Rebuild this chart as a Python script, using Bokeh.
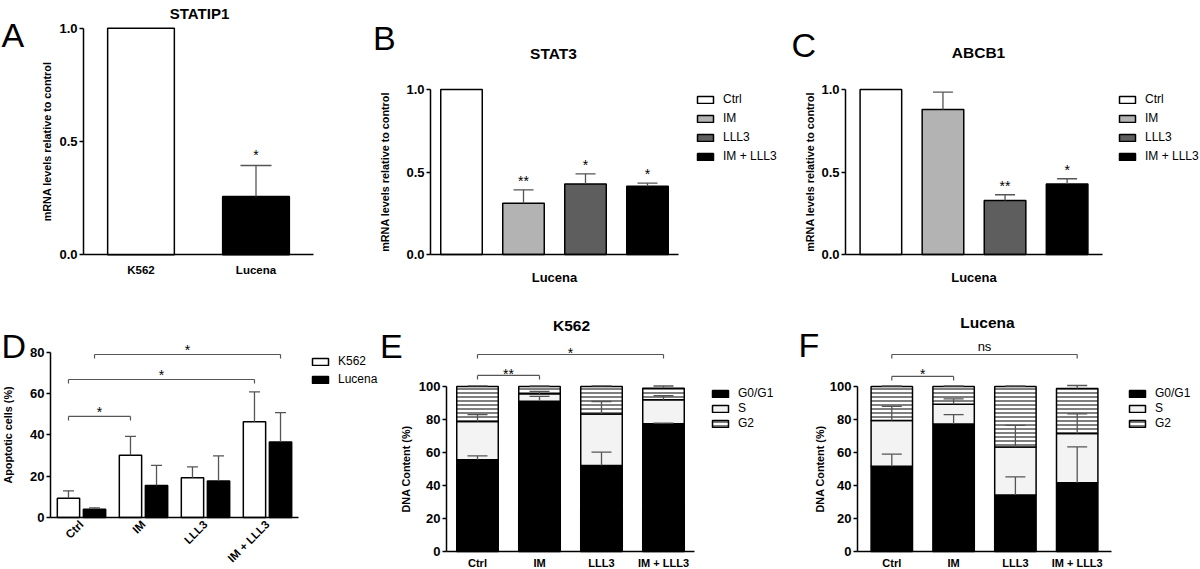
import math
from bokeh.plotting import figure
from bokeh.layouts import row, column
from bokeh.models import (ColumnDataSource, Range1d, FixedTicker, PrintfTickFormatter,
                          Whisker, TeeHead, Label, Legend, LegendItem)
from bokeh.transform import stack
from bokeh.core.properties import value
from bokeh.embed import file_html
from bokeh.resources import INLINE

# ---------------- data ----------------
mrna_ticks = [0.0, 0.5, 1.0]
pct80_ticks = [0, 20, 40, 60, 80]
pct100_ticks = [0, 20, 40, 60, 80, 100]

statip1_cells = ["K562", "Lucena"]
statip1_mean = [1.0, 0.257]
statip1_sem = [0.0, 0.137]
statip1_sig = ["", "*"]

treatments = ["Ctrl", "IM", "LLL3", "IM + LLL3"]
stat3_mean = [1.0, 0.311, 0.428, 0.414]
stat3_sem = [0.0, 0.081, 0.061, 0.018]
stat3_sig = ["", "**", "*", "*"]
abcb1_mean = [1.0, 0.879, 0.327, 0.428]
abcb1_sem = [0.0, 0.105, 0.035, 0.031]
abcb1_sig = ["", "", "**", "*"]

apop_lines = ["K562", "Lucena"]
apop_k562 = [9.3, 30.1, 19.2, 46.3]
apop_k562_sem = [3.6, 9.2, 5.3, 14.5]
apop_lucena = [4.0, 15.5, 17.7, 36.6]
apop_lucena_sem = [0.7, 9.7, 12.1, 14.2]
apop_comparisons = [("Ctrl", "K562", "IM", "K562", 48.9, "*"),
                    ("Ctrl", "K562", "IM + LLL3", "K562", 66.8, "*"),
                    ("Ctrl", "Lucena", "IM + LLL3", "Lucena", 78.9, "*")]

phases = ["G0/G1", "S", "G2"]
k562_g0g1 = [55.6, 91.1, 52.1, 77.4]
k562_g0g1_sem = [2.4, 2.9, 8.1, 0.4]
k562_s = [23.2, 4.5, 31.3, 14.5]
k562_s_sem = [4.2, 1.4, 7.5, 2.5]
k562_g2 = [21.2, 4.4, 16.6, 7.1]
k562_g2_sem = [0.4, 0.3, 0.4, 1.3]
k562_comparisons = [("Ctrl", "IM", 106.7, "**"), ("Ctrl", "IM + LLL3", 119.4, "*")]

lucena_g0g1 = [51.7, 77.2, 34.3, 41.6]
lucena_g0g1_sem = [7.3, 5.8, 10.9, 21.8]
lucena_s = [27.7, 12.1, 29.1, 29.9]
lucena_s_sem = [8.5, 3.2, 13.0, 11.9]
lucena_g2 = [20.6, 10.7, 36.6, 27.3]
lucena_g2_sem = [0.3, 0.3, 0.3, 1.8]
lucena_comparisons = [("Ctrl", "IM", 106.1, "*"), ("Ctrl", "IM + LLL3", 119.4, "ns")]

# ---------------- style ----------------
FONT = "Liberation Sans"
ERR = "#555555"
BRK = "#555555"
cell_colors = ["white", "black"]
treat_colors = ["white", "#b3b3b3", "#5e5e5e", "black"]
phase_fills = ["black", "#f3f3f3", "white"]
phase_hatch = [None, None, "-"]

W_PAGE, H_PAGE = 1200, 569
SX, SY = W_PAGE / 1200.0, H_PAGE / 569.0


def X(v):
    return v * SX


def Y(v):
    return v * SY


class Geo:
    pass


def make_panel(box, frame, ppu, n, pad):
    """box/frame in reference pixels; the whole figure is the plotting frame."""
    x0, x1, y0, y1 = box
    fl, fr, fb = frame
    bx0, bx1, by0, by1 = round(X(x0)), round(X(x1)), round(Y(y0)), round(Y(y1))
    FL, FR, FB = X(fl), X(fr), Y(fb)
    ppx = (FR - FL) / (n + 2 * pad)
    ppy = ppu * SY

    def dx(px):
        return -pad + (px - FL) / ppx

    def dy(py):
        return (FB - py) / ppy

    p = figure(width=bx1 - bx0, height=by1 - by0,
               x_range=Range1d(dx(bx0), dx(bx1)), y_range=Range1d(dy(by1), dy(by0)),
               min_border_left=0, min_border_right=0, min_border_top=0, min_border_bottom=0,
               output_backend="svg", toolbar_location=None, outline_line_color=None,
               background_fill_color="white", border_fill_color="white")
    p.xgrid.visible = False
    p.ygrid.visible = False
    g = Geo()
    g.dx = lambda xr: dx(X(xr))
    g.dy = lambda yr: dy(Y(yr))
    g.bx0, g.by1 = bx0, by1
    g.ppu = ppu
    g.left, g.right = -pad, n + pad
    g.centers = [i + 0.5 for i in range(n)]
    return p, g


def style_axes(p, g, cats, yticks, yfmt, ylabel, ylab_standoff, xsize="11.5px", xstandoff=9,
               show_x_labels=True):
    ya, xa = p.yaxis[0], p.xaxis[0]
    for ax in (xa, ya):
        ax.axis_line_color = "black"
        ax.axis_line_width = 1.5
        ax.major_tick_line_color = "black"
        ax.major_tick_line_width = 1.5
        ax.minor_tick_line_color = None
        ax.major_label_text_font = FONT
        ax.major_label_text_font_style = "bold"
        ax.major_label_text_color = "black"
        ax.axis_label_text_font = FONT
        ax.axis_label_text_font_style = "bold"
        ax.axis_label_text_color = "black"
    ya.fixed_location = g.left
    ya.ticker = FixedTicker(ticks=yticks)
    ya.formatter = PrintfTickFormatter(format=yfmt)
    ya.bounds = (yticks[0], yticks[-1])
    ya.major_tick_out = 4
    ya.major_tick_in = 0
    ya.major_label_standoff = 2
    ya.major_label_text_font_size = "13px"
    ya.axis_label = ylabel
    ya.axis_label_text_font_size = "10.8px"
    ya.axis_label_standoff = ylab_standoff
    xa.fixed_location = 0
    xa.bounds = (g.left, g.right)
    xa.major_tick_out = 0
    xa.major_tick_in = 0
    xa.major_tick_line_color = None
    if show_x_labels:
        xa.ticker = FixedTicker(ticks=g.centers)
        xa.major_label_overrides = {c: name for c, name in zip(g.centers, cats)}
    else:
        xa.ticker = FixedTicker(ticks=[])
    xa.major_label_text_font_size = xsize
    xa.major_label_standoff = xstandoff


def text_at(p, g, xr, yr, text, size, bold=False, align="left"):
    p.add_layout(Label(x=g.dx(xr), y=g.dy(yr), text=text, text_font=FONT, text_font_size=size,
                       text_font_style="bold" if bold else "normal", text_color="black",
                       text_align=align, text_baseline="alphabetic"))


def add_errors(p, xs, lows, highs, head_px):
    keep = [i for i in range(len(xs)) if highs[i] > lows[i]]
    src = ColumnDataSource(dict(x=[xs[i] for i in keep], lo=[lows[i] for i in keep],
                                hi=[highs[i] for i in keep]))
    w = Whisker(base="x", lower="lo", upper="hi", source=src, dimension="height",
                line_color=ERR, line_width=1.3, lower_head=None,
                upper_head=TeeHead(size=head_px, line_color=ERR, line_width=1.3), level="annotation")
    p.add_layout(w)


def add_stars(p, xs, anchors, texts, gap_ref, ppu, size="14px"):
    src = ColumnDataSource(dict(x=xs, y=[a + gap_ref / ppu for a in anchors], t=texts))
    p.text(x="x", y="y", text="t", source=src, text_align="center", text_baseline="alphabetic",
           text_font=value(FONT), text_font_size=size, text_color="black")


def add_brackets(p, x0s, x1s, ys, texts, star_gap, ppu):
    gaps = [7.9 if t == "ns" else star_gap for t in texts]
    src = ColumnDataSource(dict(x0=x0s, x1=x1s, y=ys, yt=[y - 4.0 / ppu for y in ys],
                                xm=[(a + b) / 2.0 for a, b in zip(x0s, x1s)],
                                ys=[y + gp / ppu for y, gp in zip(ys, gaps)], t=texts,
                                fs=["13px" if t == "ns" else "14px" for t in texts]))
    kw = dict(source=src, line_color=BRK, line_width=1.2)
    p.segment(x0="x0", y0="y", x1="x1", y1="y", **kw)
    p.segment(x0="x0", y0="y", x1="x0", y1="yt", **kw)
    p.segment(x0="x1", y0="y", x1="x1", y1="yt", **kw)
    p.text(x="xm", y="ys", text="t", source=src, text_align="center", text_baseline="alphabetic",
           text_font=value(FONT), text_font_size="fs", text_color="black")


def add_legend(p, g, items, left_ref, first_center_ref, lh):
    n = len(items)
    top = Y(first_center_ref) - lh / 2.0
    vy = g.by1 - (top + n * lh)
    vx = X(left_ref) - g.bx0
    leg = Legend(items=items, location=(vx, vy), orientation="vertical", padding=0, margin=0,
                 spacing=0, label_height=lh, glyph_height=9, glyph_width=20, label_standoff=8,
                 border_line_color=None, background_fill_alpha=0,
                 label_text_font=FONT, label_text_font_size="12px", label_text_color="black")
    p.add_layout(leg, "center")


# ---------------- Panel A ----------------
pA, gA = make_panel((0, 372, 0, 290), (83, 313, 254.3), 226.6, len(statip1_cells), 0.0)
style_axes(pA, gA, statip1_cells, mrna_ticks, "%.1f", "mRNA levels relative to control", 3)
topsA = [m + e for m, e in zip(statip1_mean, statip1_sem)]
srcA = ColumnDataSource(dict(x=gA.centers, mean=statip1_mean, color=cell_colors))
pA.vbar(x="x", top="mean", width=0.58, source=srcA, fill_color="color",
        line_color="black", line_width=1.5)
add_errors(pA, gA.centers, statip1_mean, topsA, 31)
add_stars(pA, gA.centers, topsA, statip1_sig, 10.2, 226.6)
text_at(pA, gA, 199, 13, "STATIP1", "15px", bold=True, align="center")
text_at(pA, gA, 1, 34, "A", "34px")


# ---------------- Panels B, C ----------------
def mrna_panel(box, frame, mean, sem, sig, title, title_xy, letter, letter_xy, legend_left,
               ylab_standoff, pad):
    p, g = make_panel(box, frame, 165.0, len(treatments), pad)
    style_axes(p, g, treatments, mrna_ticks, "%.1f", "mRNA levels relative to control",
               ylab_standoff, show_x_labels=False)
    xa = p.xaxis[0]
    xa.axis_label = "Lucena"
    xa.axis_label_text_font_size = "13px"
    xa.axis_label_standoff = 15
    src = ColumnDataSource(dict(x=g.centers, mean=mean, color=treat_colors))
    r = p.vbar(x="x", top="mean", width=0.67, source=src, fill_color="color",
               line_color="black", line_width=1.5)
    tops = [m + e for m, e in zip(mean, sem)]
    add_errors(p, g.centers, mean, tops, 20)
    add_stars(p, g.centers, tops, sig, 9.0, 165.0)
    text_at(p, g, title_xy[0], title_xy[1], title, "15.5px", bold=True, align="center")
    text_at(p, g, letter_xy[0], letter_xy[1], letter, "34px")
    items = [LegendItem(label=treatments[i], renderers=[r], index=i) for i in range(len(treatments))]
    add_legend(p, g, items, legend_left, 99, 19)
    return p


pB = mrna_panel((372, 790, 0, 290), (430, 678, 254), stat3_mean, stat3_sem, stat3_sig,
                "STAT3", (553, 53), "B", (372.5, 37), 695, 12, 0.0)
pC = mrna_panel((790, 1200, 0, 290), (845, 1102, 254), abcb1_mean, abcb1_sem, abcb1_sig,
                "ABCB1", (978, 52), "C", (791, 44), 1117, 2, 0.07)

# ---------------- Panel D ----------------
pD, gD = make_panel((0, 379, 290, 569), (50, 298, 517), 2.066, len(treatments), 0.0)
style_axes(pD, gD, treatments, pct80_ticks, "%d", "Apoptotic cells (%)", 13, xsize="11.5px",
           xstandoff=5)
pD.xaxis[0].major_label_orientation = math.pi / 4
offs = {"K562": -0.21, "Lucena": 0.21}
xk = [c + offs["K562"] for c in gD.centers]
xl = [c + offs["Lucena"] for c in gD.centers]
srcD = ColumnDataSource(dict(xk=xk, xl=xl, k=apop_k562, l=apop_lucena))
rk = pD.vbar(x="xk", top="k", width=0.36, source=srcD, fill_color="white",
             line_color="black", line_width=1.5)
rl = pD.vbar(x="xl", top="l", width=0.36, source=srcD, fill_color="black",
             line_color="black", line_width=1.5)
add_errors(pD, xk, apop_k562, [m + e for m, e in zip(apop_k562, apop_k562_sem)], 11)
add_errors(pD, xl, apop_lucena, [m + e for m, e in zip(apop_lucena, apop_lucena_sem)], 11)
add_brackets(pD,
             [gD.centers[treatments.index(c0)] + offs[s0] for c0, s0, c1, s1, yb, t in apop_comparisons],
             [gD.centers[treatments.index(c1)] + offs[s1] for c0, s0, c1, s1, yb, t in apop_comparisons],
             [yb for c0, s0, c1, s1, yb, t in apop_comparisons],
             [t for c0, s0, c1, s1, yb, t in apop_comparisons], 4.9, 2.066)
text_at(pD, gD, 1, 345, "D", "34px")
add_legend(pD, gD, [LegendItem(label=apop_lines[0], renderers=[rk]),
                    LegendItem(label=apop_lines[1], renderers=[rl])], 310, 361, 18)


# ---------------- Panels E, F ----------------
def cycle_panel(box, frame, g0, g0e, s, se, g2, g2e, comps, title, title_xy, letter, letter_xy,
                legend_left, ylab_standoff, pad, star_gap):
    p, g = make_panel(box, frame, 1.65, len(treatments), pad)
    style_axes(p, g, treatments, pct100_ticks, "%d", "DNA Content (%)", ylab_standoff,
               xsize="11px", xstandoff=5)
    src = ColumnDataSource(dict(x=g.centers, g0=g0, s=s, g2=g2))
    keys = ["g0", "s", "g2"]
    rends = []
    for i, k in enumerate(keys):
        bottom = 0 if i == 0 else stack(*keys[:i])
        kw = dict(hatch_pattern=phase_hatch[i], hatch_color="black", hatch_scale=4.0,
                  hatch_weight=1.0) if phase_hatch[i] else {}
        r = p.vbar(x="x", bottom=bottom, top=stack(*keys[:i + 1]), width=0.67, source=src,
                   fill_color=phase_fills[i], line_color="black", line_width=1.5, **kw)
        rends.append(r)
    cum1 = list(g0)
    cum2 = [a + b for a, b in zip(g0, s)]
    cum3 = [a + b + c for a, b, c in zip(g0, s, g2)]
    add_errors(p, g.centers, cum1, [a + e for a, e in zip(cum1, g0e)], 20)
    add_errors(p, g.centers, cum2, [a + e for a, e in zip(cum2, se)], 20)
    add_errors(p, g.centers, cum3, [a + e for a, e in zip(cum3, g2e)], 20)
    add_brackets(p, [g.centers[treatments.index(c0)] for c0, c1, yb, t in comps],
                 [g.centers[treatments.index(c1)] for c0, c1, yb, t in comps],
                 [yb for c0, c1, yb, t in comps], [t for c0, c1, yb, t in comps], star_gap, 1.65)
    text_at(p, g, title_xy[0], title_xy[1], title, "15.5px", bold=True, align="center")
    text_at(p, g, letter_xy[0], letter_xy[1], letter, "34px")
    items = [LegendItem(label=phases[i], renderers=[rends[i]]) for i in range(3)]
    add_legend(p, g, items, legend_left, 393, 15)
    return p


pE = cycle_panel((379, 790, 290, 569), (446, 694, 551), k562_g0g1, k562_g0g1_sem, k562_s,
                 k562_s_sem, k562_g2, k562_g2_sem, k562_comparisons, "K562", (571, 325), "E",
                 (379.5, 345), 710, 4, 0.0, 1.9)
pF = cycle_panel((790, 1200, 290, 569), (857, 1111, 551), lucena_g0g1, lucena_g0g1_sem,
                 lucena_s, lucena_s_sem, lucena_g2, lucena_g2_sem, lucena_comparisons, "Lucena",
                 (987, 322), "F", (798, 344), 1127, 1, 0.055, 2.9)

layout = column(row(pA, pB, pC), row(pD, pE, pF))
open("out.html", "w").write(file_html(layout, INLINE, title="Figure"))
